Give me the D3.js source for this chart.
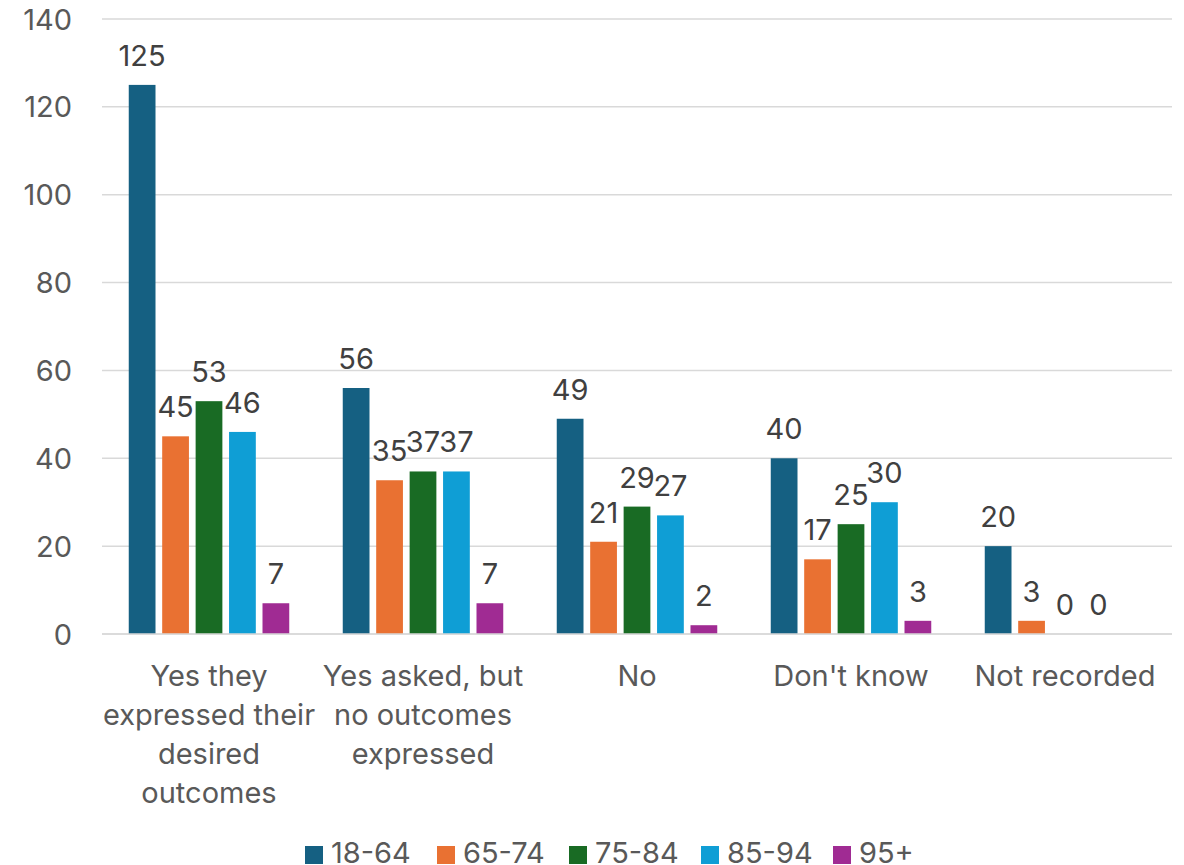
<!DOCTYPE html>
<html><head><meta charset="utf-8">
<script src="https://cdn.jsdelivr.net/npm/d3@7"></script>
<style>body{margin:0;background:#fff}svg{display:block;font-family:Inter,"Open Sans",sans-serif}</style>
</head><body><svg id="c" width="1184" height="865"></svg>
<script>
const categories = ["Yes they expressed their desired outcomes","Yes asked, but no outcomes expressed","No","Don't know","Not recorded"];
const categoryLines = [["Yes they","expressed their","desired","outcomes"],["Yes asked, but","no outcomes","expressed"],["No"],["Don't know"],["Not recorded"]];
const seriesNames = ["18-64","65-74","75-84","85-94","95+"];
const colors = ["#156082","#e97132","#196b24","#0f9ed5","#a02b93"];
const v1864 = [125,56,49,40,20];
const v6574 = [45,35,21,17,3];
const v7584 = [53,37,29,25,0];
const v8594 = [46,37,27,30,0];
const v95   = [7,7,2,3,null];
const yTicks = [0,20,40,60,80,100,120,140];
const series = [v1864,v6574,v7584,v8594,v95];

const svg = d3.select("#c");
const pLeft=102, pRight=1172, pTop=19, pBottom=634;
const y = d3.scaleLinear().domain([0,140]).range([pBottom,pTop]);
const x0 = d3.scaleBand().domain(categories).range([pLeft,pRight]).padding(0);
const x1 = d3.scaleBand().domain(seriesNames).range([0,x0.bandwidth()]).paddingInner(0.2).paddingOuter(0.8);

svg.append("g").selectAll("line").data(yTicks).join("line")
  .attr("x1",pLeft).attr("x2",pRight).attr("y1",d=>y(d)).attr("y2",d=>y(d))
  .attr("stroke","#d9d9d9").attr("stroke-width",1.5);
svg.append("g").selectAll("text").data(yTicks).join("text")
  .attr("x",72).attr("y",d=>y(d)+10.5).attr("text-anchor","end")
  .attr("font-size",29).attr("fill","#595959").text(d=>d);

const g = svg.append("g");
categories.forEach((c,ci)=>{
  series.forEach((s,si)=>{
    const v = s[ci];
    if(v===null) return;
    const bx = x0(c)+x1(seriesNames[si]);
    g.append("rect").attr("x",bx).attr("y",y(v)).attr("width",x1.bandwidth())
      .attr("height",pBottom-y(v)).attr("fill",colors[si]);
    g.append("text").attr("x",bx+x1.bandwidth()/2).attr("y",y(v)-19)
      .attr("text-anchor","middle").attr("font-size",29).attr("fill","#404040").text(v);
  });
});
svg.append("line").attr("x1",pLeft).attr("x2",pRight).attr("y1",pBottom).attr("y2",pBottom).attr("stroke","#d9d9d9").attr("stroke-width",1.5);

categories.forEach((c,ci)=>{
  const t = svg.append("text").attr("text-anchor","middle").attr("font-size",29).attr("fill","#595959");
  categoryLines[ci].forEach((ln,li)=>{
    t.append("tspan").attr("x",x0(c)+x0.bandwidth()/2).attr("y",686+li*39).text(ln);
  });
});

const leg = svg.append("g");
const legScale = d3.scalePoint().domain(seriesNames).range([305,833]);
seriesNames.forEach((n,i)=>{
  const lx = legScale(n);
  leg.append("rect").attr("x",lx).attr("y",846).attr("width",18).attr("height",18).attr("fill",colors[i]);
  leg.append("text").attr("x",lx+26).attr("y",863).attr("font-size",29).attr("fill","#595959").text(n);
});
</script></body></html>
